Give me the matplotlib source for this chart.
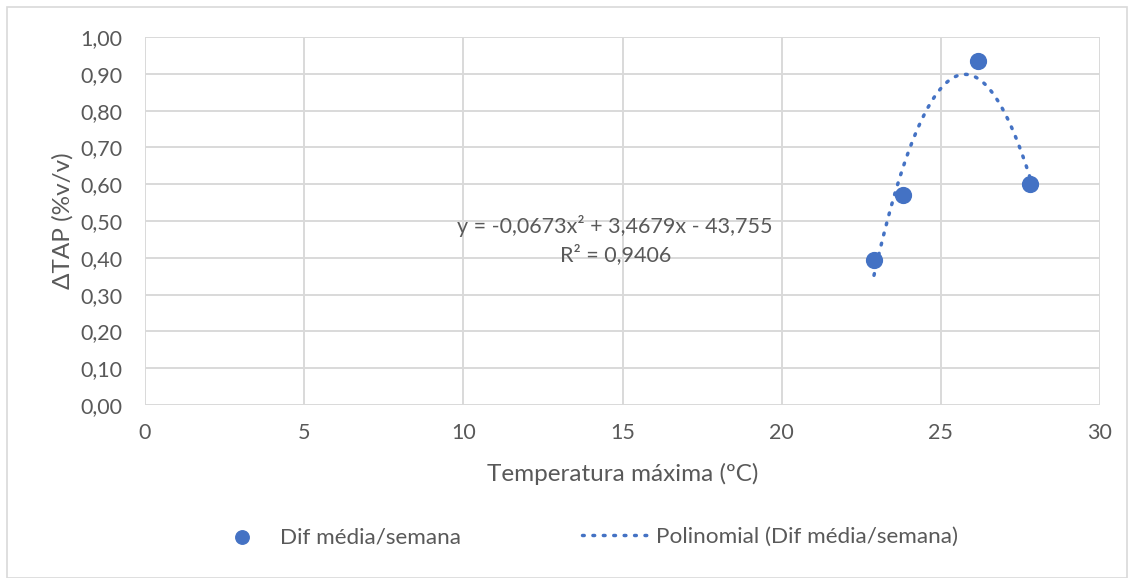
import numpy as np
import matplotlib.pyplot as plt
from matplotlib.patches import Rectangle

# dados
temp_max = [22.9, 23.8, 26.16, 27.8]
dif_media = [0.394, 0.572, 0.935, 0.60]

x_ticks = [0, 5, 10, 15, 20, 25, 30]
y_ticks = [0.0, 0.1, 0.2, 0.3, 0.4, 0.5, 0.6, 0.7, 0.8, 0.9, 1.0]

blue = '#4472C4'
grid_gray = '#D9D9D9'
text_gray = '#595959'

plt.rcParams['font.family'] = ['Lato', 'DejaVu Sans']

fig = plt.figure(figsize=(11.34, 5.78), dpi=100)
ax = fig.add_axes([145 / 1134, 1 - 405 / 578, 955 / 1134, 368 / 578])

# pontos
ax.scatter(temp_max, dif_media, s=130, color=blue, zorder=3,
           label='Dif média/semana')

# linha de tendência polinomial (ordem 2)
coefs = np.polyfit(temp_max, dif_media, 2)
xs = np.linspace(min(temp_max), max(temp_max), 200)
ax.plot(xs, np.polyval(coefs, xs), color=blue, linestyle=(0, (0.5, 2.5)),
        linewidth=2.5, dash_capstyle='round', zorder=2,
        label='Polinomial (Dif média/semana)')

ax.set_xlim(0, 30)
ax.set_ylim(0, 1.0)
ax.set_xticks(x_ticks)
ax.set_yticks(y_ticks)
ax.set_yticklabels([f'{v:.2f}'.replace('.', ',') for v in y_ticks])
ax.set_xticklabels([str(v) for v in x_ticks])
ax.tick_params(axis='y', length=0, labelsize=15.5, colors=text_gray, pad=16)
ax.tick_params(axis='x', length=0, labelsize=15.5, colors=text_gray, pad=13)
ax.grid(True, color=grid_gray, linewidth=1.4)
ax.set_axisbelow(True)
for s in ax.spines.values():
    s.set_visible(False)

ax.set_xlabel('Temperatura máxima (ºC)', fontsize=17.5, color=text_gray,
              labelpad=14)
ax.set_ylabel('ΔTAP (%v/v)', fontsize=17.5, color=text_gray, labelpad=5)

eq = 'y = -0,0673x² + 3,4679x - 43,755\nR² = 0,9406'
ax.text(14.77, 0.448, eq, ha='center', va='center', fontsize=15.5,
        color=text_gray, linespacing=1.45)

leg = fig.legend(loc='center', bbox_to_anchor=(582 / 1134, 1 - 537 / 578),
                 ncol=2, frameon=False, fontsize=16.2, handlelength=3.2,
                 columnspacing=5.4, handletextpad=0.1, markerscale=0.85)
for t in leg.get_texts():
    t.set_color(text_gray)

# borda externa
fig.patches.append(Rectangle((7 / 1134, 0), 1 - 14 / 1134, 1 - 7 / 578,
                             transform=fig.transFigure, fill=False,
                             edgecolor=grid_gray, linewidth=1.2))

fig.savefig('out.png', dpi=100)
